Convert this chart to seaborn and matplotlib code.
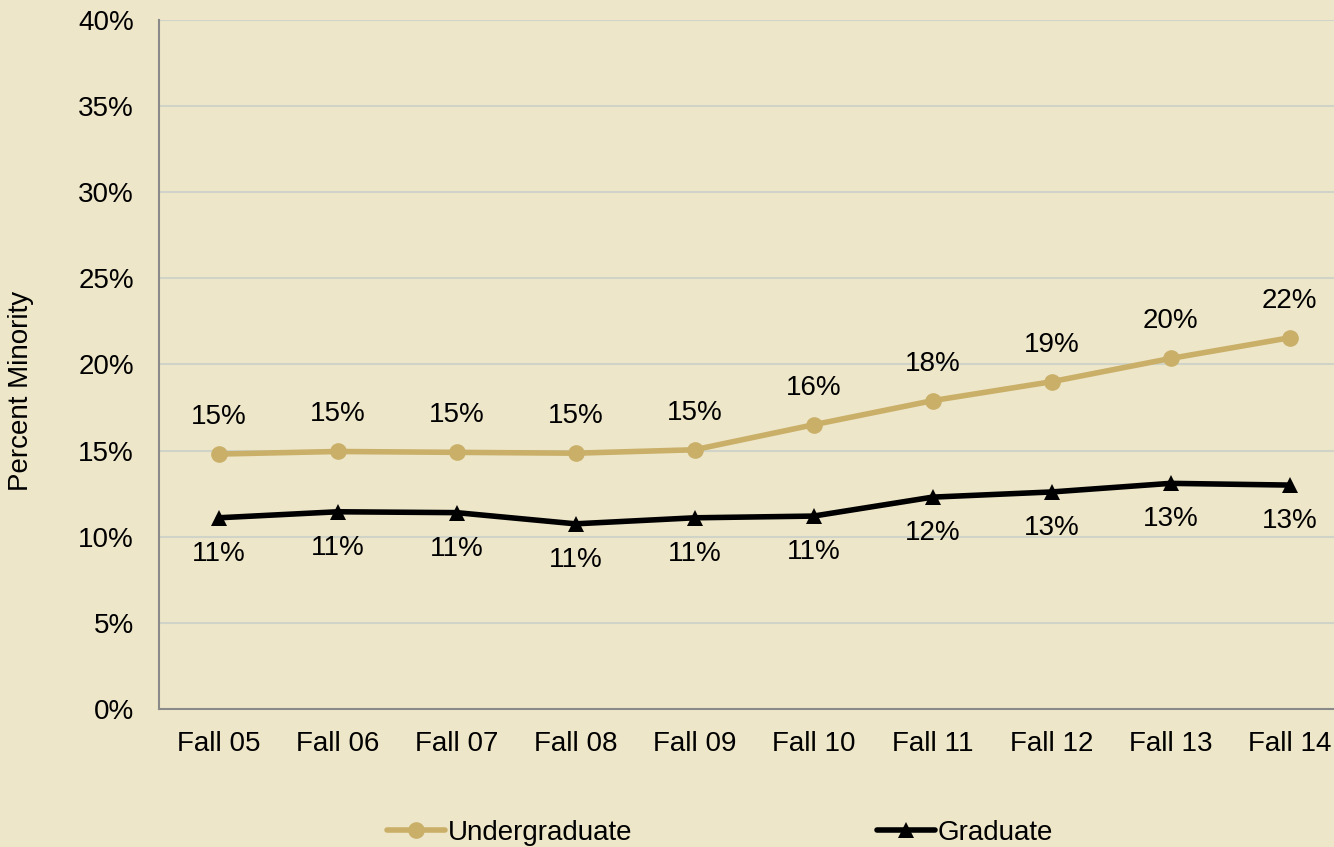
#!/bin/env python3

"""
Percent minority enrollment, undergraduate vs graduate, Fall 05 - Fall 14
"""

import numpy as np
import pandas as pd
import matplotlib
matplotlib.use('Agg')
import matplotlib.pyplot as plt
from matplotlib.ticker import FixedLocator, PercentFormatter
import seaborn as sns

terms = ['Fall 05', 'Fall 06', 'Fall 07', 'Fall 08', 'Fall 09',
         'Fall 10', 'Fall 11', 'Fall 12', 'Fall 13', 'Fall 14']
undergrad = [14.8, 14.95, 14.9, 14.85, 15.05, 16.5, 17.9, 19.0, 20.35, 21.55]
graduate = [11.1, 11.45, 11.4, 10.75, 11.1, 11.2, 12.3, 12.6, 13.1, 13.0]

bg = '#EEE6C8'
tan = '#C9AF68'
axis_grey = '#8A8A8A'

sns.set_style('white')
plt.rcParams['font.family'] = ['Liberation Sans', 'DejaVu Sans']
plt.rcParams['text.color'] = 'black'
plt.rcParams['xtick.color'] = 'black'
plt.rcParams['ytick.color'] = 'black'
plt.rcParams['axes.labelcolor'] = 'black'

df = pd.DataFrame({'pos': list(range(len(terms))) * 2,
                   'pct': undergrad + graduate,
                   'level': ['Undergraduate'] * len(terms) + ['Graduate'] * len(terms)})

fig = plt.figure(figsize=(13.34, 8.47), dpi=100, facecolor=bg)
ax = fig.add_axes([159 / 1334, 138 / 847, 1190 / 1334, 689 / 847])
ax.set_facecolor(bg)

sns.lineplot(data=df, x='pos', y='pct', hue='level', style='level',
             palette={'Undergraduate': tan, 'Graduate': 'black'},
             markers={'Undergraduate': 'o', 'Graduate': '^'},
             dashes=False, linewidth=4, markersize=12, markeredgewidth=0,
             ax=ax, legend=False, zorder=3)

# data labels
for i, v in enumerate(undergrad):
    ax.annotate(f'{v:.0f}%', (i, v), xytext=(0, 37), textcoords='offset pixels',
                ha='center', va='center', fontsize=20)
for i, v in enumerate(graduate):
    ax.annotate(f'{v:.0f}%', (i, v), xytext=(0, -36), textcoords='offset pixels',
                ha='center', va='center', fontsize=20)

ax.set_xlim(-0.5, len(terms) - 0.5)
ax.set_ylim(0, 40)
ax.yaxis.set_major_locator(FixedLocator(np.arange(0, 41, 5)))
ax.yaxis.set_major_formatter(PercentFormatter(decimals=0))
ax.set_xticks(range(len(terms)))
ax.set_xticklabels(terms)
ax.xaxis.set_minor_locator(FixedLocator(np.arange(-0.5, len(terms), 1.0)))
ax.tick_params(axis='x', which='major', length=0, pad=16, labelsize=20)
ax.tick_params(axis='x', which='minor', length=5, width=1.5, color=axis_grey, direction='out')
ax.tick_params(axis='y', which='major', length=5, width=1.5, color=axis_grey,
               direction='out', labelsize=20, pad=13)
ax.set_xlabel('')
ax.set_ylabel('Percent Minority', fontsize=20)
ax.yaxis.set_label_coords(-125 / 1190, (709 - 391) / 689)

ax.yaxis.grid(True, color='#CFD3C8', linewidth=1.5, zorder=0)
ax.set_axisbelow(True)
for s in ['top', 'right']:
    ax.spines[s].set_visible(False)
for s in ['left', 'bottom']:
    ax.spines[s].set_color(axis_grey)
    ax.spines[s].set_linewidth(1.5)

h1 = plt.Line2D([], [], color=tan, lw=4, marker='o', markersize=12, markeredgewidth=0)
h2 = plt.Line2D([], [], color='black', lw=4, marker='^', markersize=12, markeredgewidth=0)
fig.legend([h1, h2], ['Undergraduate', 'Graduate'], loc='center', ncol=2,
           bbox_to_anchor=(720 / 1334, 1 - 833 / 847), bbox_transform=fig.transFigure,
           frameon=False, fontsize=20, handlelength=2.1, handletextpad=0.1,
           columnspacing=8.8, borderpad=0, borderaxespad=0)

fig.savefig('out.png', dpi=100, facecolor=bg)
plt.close()
